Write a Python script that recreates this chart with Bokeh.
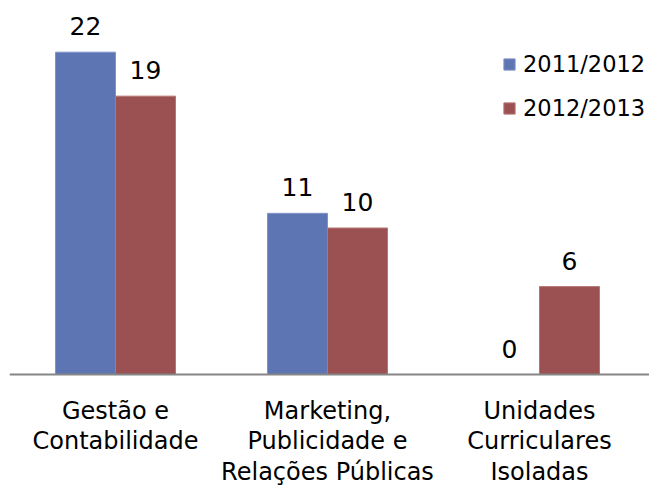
from bokeh.plotting import figure
from bokeh.models import ColumnDataSource, Range1d, Span, Legend, LegendItem
from bokeh.core.properties import value
from bokeh.embed import file_html
from bokeh.resources import INLINE

categories = ["Gestão e\nContabilidade", "Marketing,\nPublicidade e\nRelações Públicas",
              "Unidades\nCurriculares\nIsoladas"]
series_names = ["2011/2012", "2012/2013"]
values_2011 = [22, 11, 0]
values_2012 = [19, 10, 6]

BLUE = "#5E75B3"
RED = "#9B5152"
FONT = "DejaVu Sans"

W, H = 649, 486
LEFT = 9
px_x = 212.0          # pixels per category
px_y = 14.65          # pixels per unit value
base_px = 374         # baseline position from top of figure

x0 = -0.5
x1 = x0 + (W - LEFT) / px_x
y1 = base_px / px_y
y0 = -(H - base_px) / px_y

p = figure(width=W, height=H, output_backend="svg", toolbar_location=None,
           x_range=Range1d(x0, x1), y_range=Range1d(y0, y1),
           x_axis_location=None, y_axis_location=None,
           min_border_left=LEFT, min_border_right=0, min_border_top=0, min_border_bottom=0)
p.grid.visible = False
p.outline_line_color = None
p.background_fill_color = "white"

idx = list(range(len(categories)))
dodge = 30 / px_x
bw = 60 / px_x
label_gap = 17 / px_y

src = ColumnDataSource(dict(
    g=idx,
    xb=[i - dodge for i in idx],
    xr=[i + dodge for i in idx],
    v1=values_2011,
    v2=values_2012,
    t1=[str(v) for v in values_2011],
    t2=[str(v) for v in values_2012],
    ly1=[v + label_gap for v in values_2011],
    ly2=[v + label_gap for v in values_2012],
    cat=categories,
))

r1 = p.vbar(x="xb", top="v1", bottom=0, width=bw, source=src, fill_color=BLUE,
            line_color="#7f93c8", line_width=1)
r2 = p.vbar(x="xr", top="v2", bottom=0, width=bw, source=src, fill_color=RED,
            line_color="#b77474", line_width=1)

p.add_layout(Span(location=0, dimension="width", line_color="#868686", line_width=2))

# value labels: bottom of text box sits 17px above bar top
p.text(x="xb", y="ly1", text="t1", source=src, text_align="center",
       text_baseline="bottom", text_font=value(FONT), text_font_size="25px",
       text_color="black")
p.text(x="xr", y="ly2", text="t2", source=src, text_align="center",
       text_baseline="bottom", text_font=value(FONT), text_font_size="25px",
       text_color="black")

cat_y = -22 / px_y
src_cat = ColumnDataSource(dict(x=idx, y=[cat_y] * len(idx), t=categories))
p.text(x="x", y="y", text="t", source=src_cat, text_align="center",
       text_baseline="top", text_font=value(FONT), text_font_size="24px",
       text_line_height=1.1, text_color="black")

legend = Legend(items=[LegendItem(label=series_names[0], renderers=[r1]),
                       LegendItem(label=series_names[1], renderers=[r2])],
                location=(493, 365), orientation="vertical",
                label_text_font=FONT, label_text_font_size="22.5px",
                label_text_color="black",
                glyph_width=14, glyph_height=14, label_standoff=7,
                label_height=27, spacing=17, padding=0, margin=0,
                border_line_color=None, background_fill_alpha=0)
p.add_layout(legend, "center")

open("out.html", "w").write(file_html(p, INLINE))
